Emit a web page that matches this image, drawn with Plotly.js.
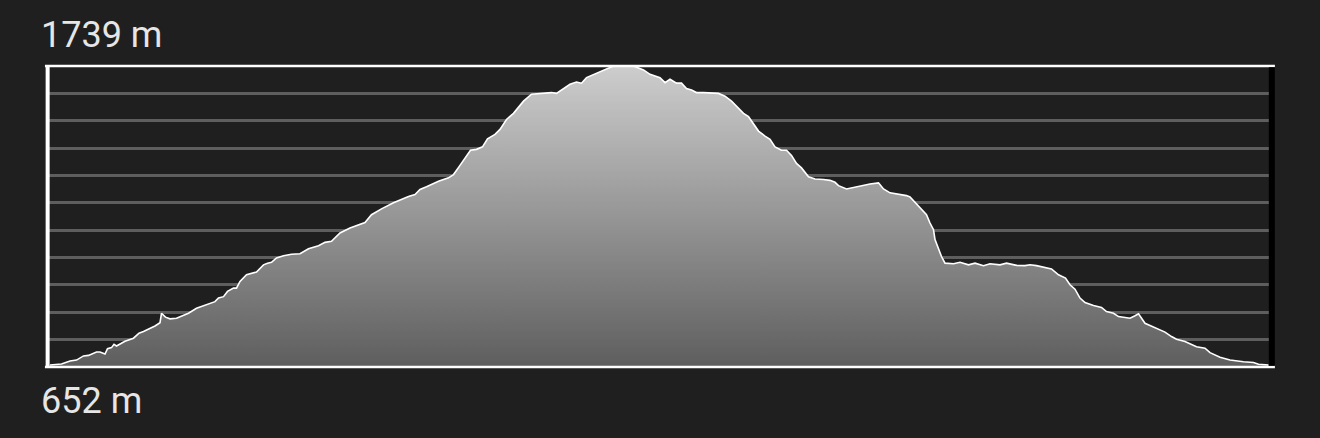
<!DOCTYPE html>
<html>
<head>
<meta charset="utf-8">
<script src="https://cdn.plot.ly/plotly-3.0.1.min.js"></script>
<style>
  html, body { margin: 0; padding: 0; background: #1f1f1f; }
  #chart { width: 1320px; height: 438px; }
</style>
</head>
<body>
<div id="chart"></div>
<script>
// Distance along the route (km)
const distanceKm = [
  0.00, 0.23, 0.40, 0.53, 0.67, 0.77, 0.93, 1.00, 1.10, 1.15,
  1.23, 1.28, 1.33, 1.50, 1.67, 1.78, 1.87, 1.97, 2.10, 2.20,
  2.23, 2.31, 2.40, 2.53, 2.67, 2.77, 2.93, 3.03, 3.17, 3.30,
  3.37, 3.47, 3.55, 3.67, 3.73, 3.80, 3.93, 4.03, 4.13, 4.27,
  4.35, 4.43, 4.53, 4.67, 4.83, 5.00, 5.17, 5.37, 5.50, 5.63,
  5.80, 6.00, 6.17, 6.30, 6.43, 6.63, 6.87, 7.17, 7.30, 7.40,
  7.53, 7.77, 7.97, 8.07, 8.20, 8.30, 8.41, 8.53, 8.65, 8.75,
  8.90, 9.00, 9.13, 9.27, 9.47, 9.63, 9.83, 10.03, 10.13, 10.27,
  10.40, 10.53, 10.63, 10.73, 10.93, 11.13, 11.27, 11.67, 11.87, 12.00,
  12.13, 12.20, 12.30, 12.40, 12.53, 12.63, 12.73, 12.83, 12.93, 13.07,
  13.37, 13.50, 13.63, 13.77, 13.87, 13.97, 14.07, 14.17, 14.30, 14.40,
  14.50, 14.63, 14.73, 14.83, 14.93, 15.03, 15.17, 15.30, 15.47, 15.60,
  15.70, 15.77, 15.93, 16.07, 16.27, 16.40, 16.57, 16.67, 16.80, 16.93,
  17.13, 17.20, 17.37, 17.53, 17.60, 17.67, 17.70, 17.80, 17.83, 17.90,
  18.07, 18.20, 18.37, 18.50, 18.67, 18.80, 19.00, 19.13, 19.33, 19.50,
  19.60, 19.73, 19.87, 20.03, 20.17, 20.31, 20.40, 20.50, 20.60, 20.70,
  20.87, 21.03, 21.13, 21.27, 21.37, 21.60, 21.70, 21.77, 21.90, 22.10,
  22.30, 22.43, 22.53, 22.70, 22.93, 23.10, 23.20, 23.40, 23.60, 23.87,
  24.07, 24.17, 24.37
];

// Elevation (m)
const elevationM = [
  659, 663, 674, 677, 692, 694, 706, 706, 699, 718,
  722, 734, 728, 745, 756, 774, 780, 788, 800, 812,
  846, 832, 826, 828, 840, 846, 864, 870, 880, 888,
  901, 906, 925, 937, 937, 961, 985, 991, 995, 1021,
  1027, 1030, 1046, 1054, 1059, 1061, 1079, 1090, 1102, 1106,
  1136, 1154, 1166, 1174, 1202, 1223, 1245, 1268, 1275, 1293,
  1303, 1323, 1335, 1347, 1380, 1408, 1435, 1438, 1447, 1476,
  1492, 1510, 1546, 1568, 1612, 1637, 1640, 1643, 1640, 1657,
  1673, 1681, 1677, 1697, 1713, 1730, 1739, 1739, 1725, 1709,
  1703, 1697, 1679, 1691, 1677, 1677, 1658, 1652, 1643, 1643,
  1640, 1630, 1612, 1588, 1568, 1556, 1528, 1504, 1486, 1474,
  1447, 1435, 1435, 1416, 1387, 1371, 1339, 1331, 1329, 1326,
  1319, 1307, 1295, 1301, 1307, 1313, 1317, 1295, 1281, 1278,
  1271, 1266, 1232, 1202, 1172, 1148, 1112, 1064, 1051, 1027,
  1025, 1030, 1021, 1027, 1018, 1025, 1021, 1027, 1019, 1018,
  1021, 1018, 1013, 1006, 985, 973, 949, 933, 901, 885,
  874, 867, 852, 846, 834, 828, 837, 844, 810, 794,
  778, 762, 752, 744, 725, 720, 704, 687, 677, 671,
  668, 662, 659
];

const minElevation = 652;
const maxElevation = 1739;
const gridIntervals = 11;
const topLabel = maxElevation + ' m';
const bottomLabel = minElevation + ' m';

const trace = {
  x: distanceKm,
  y: elevationM,
  type: 'scatter',
  mode: 'lines',
  line: { color: '#ffffff', width: 1.6, shape: 'linear' },
  fill: 'tozeroy',
  fillgradient: {
    type: 'vertical',
    start: minElevation,
    stop: maxElevation,
    colorscale: [[0, '#5e5e5e'], [1, '#cdcdcd']]
  },
  hoverinfo: 'skip'
};

const layout = {
  width: 1320,
  height: 438,
  paper_bgcolor: '#1f1f1f',
  plot_bgcolor: '#1f1f1f',
  margin: { l: 48, r: 50, t: 66, b: 71, pad: 0 },
  showlegend: false,
  xaxis: {
    range: [-0.04, 24.40],
    showgrid: false, zeroline: false, showline: false,
    showticklabels: false, ticks: '', fixedrange: true
  },
  yaxis: {
    range: [minElevation, maxElevation],
    tick0: minElevation,
    dtick: (maxElevation - minElevation) / gridIntervals,
    showgrid: true, gridcolor: '#5e5e5e', gridwidth: 3,
    zeroline: false, showline: false,
    showticklabels: false, ticks: '', fixedrange: true
  },
  shapes: [
    { type: 'line', xref: 'paper', yref: 'paper', x0: -0.0025, x1: 1.004, y0: 1, y1: 1,
      line: { color: '#ffffff', width: 2.5 } },
    { type: 'line', xref: 'paper', yref: 'paper', x0: -0.0025, x1: 1.004, y0: 0, y1: 0,
      line: { color: '#ffffff', width: 2.5 } },
    { type: 'line', xref: 'paper', yref: 'paper', x0: -0.0003, x1: -0.0003, y0: 0, y1: 1,
      line: { color: '#ffffff', width: 4 } },
    { type: 'line', xref: 'paper', yref: 'paper', x0: 1.0015, x1: 1.0015, y0: 0.004, y1: 0.996,
      line: { color: '#000000', width: 6 } }
  ],
  annotations: [
    { text: topLabel, xref: 'paper', yref: 'paper', x: -0.004, y: 1, xanchor: 'left', yanchor: 'bottom',
      xshift: -4, yshift: 8, showarrow: false,
      font: { family: 'Roboto, "Noto Sans", sans-serif', size: 36, color: '#e6e6e6' } },
    { text: bottomLabel, xref: 'paper', yref: 'paper', x: -0.004, y: 0, xanchor: 'left', yanchor: 'top',
      xshift: -4, yshift: -11, showarrow: false,
      font: { family: 'Roboto, "Noto Sans", sans-serif', size: 36, color: '#e6e6e6' } }
  ]
};

Plotly.newPlot('chart', [trace], layout, { displayModeBar: false, staticPlot: true });
</script>
</body>
</html>
